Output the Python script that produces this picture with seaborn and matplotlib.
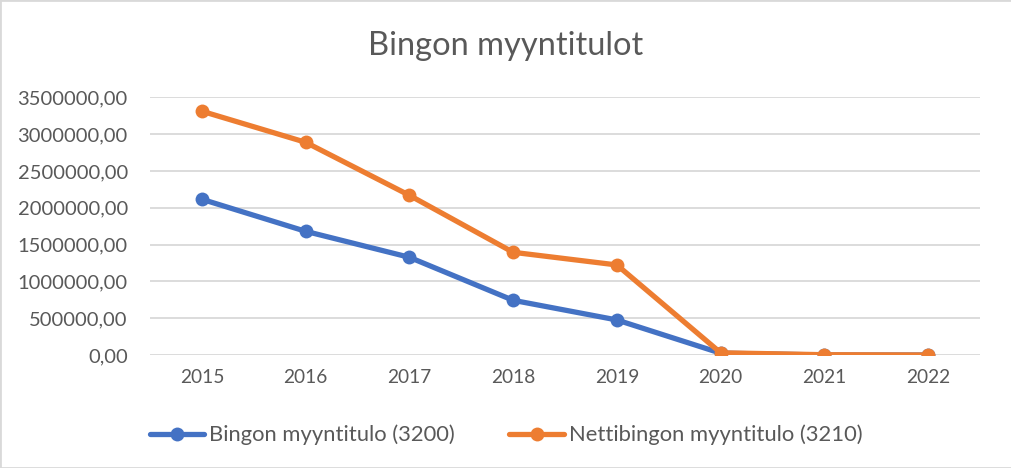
import matplotlib
matplotlib.use("Agg")
import matplotlib.pyplot as plt
import matplotlib.ticker as mticker
from matplotlib.lines import Line2D
import seaborn as sns
import pandas as pd

years = [2015, 2016, 2017, 2018, 2019, 2020, 2021, 2022]
bingo = [2115000, 1680000, 1327000, 743000, 476000, 25000, 0, 0]
nettibingo = [3311000, 2889000, 2169000, 1395000, 1223000, 30000, 4000, 0]
series_names = ["Bingon myyntitulo (3200)", "Nettibingon myyntitulo (3210)"]
title = "Bingon myyntitulot"
colors = ["#4472C4", "#ED7D31"]

df = pd.DataFrame({
    "Vuosi": years * 2,
    "Arvo": bingo + nettibingo,
    "Sarja": [series_names[0]] * len(years) + [series_names[1]] * len(years),
})

sns.set_theme(style="white")
plt.rcParams["font.family"] = ["Lato", "DejaVu Sans"]

fig = plt.figure(figsize=(10.12, 4.68), dpi=100)
ax = fig.add_axes([150 / 1012, 1 - 355 / 468, (980 - 150) / 1012, (355 - 97.3) / 468])

sns.lineplot(data=df, x="Vuosi", y="Arvo", hue="Sarja", palette=colors,
             marker="o", markersize=10, markeredgewidth=0, linewidth=3.8,
             legend=False, ax=ax, sort=False)

ax.set_xlim(2014.5, 2022.5)
ax.set_ylim(0, 3500000)
ax.set_xticks(years)
ax.set_xticklabels([str(y) for y in years])
ax.yaxis.set_major_locator(mticker.MultipleLocator(500000))
ax.yaxis.set_major_formatter(mticker.FuncFormatter(lambda v, p: f"{int(round(v))},00"))
ax.grid(axis="y", color="#D9D9D9", linewidth=1.3)
ax.set_axisbelow(True)
for s in ax.spines.values():
    s.set_visible(False)
ax.tick_params(axis="x", length=0, labelsize=13.8, colors="#595959", pad=10)
ax.tick_params(axis="y", length=0, labelsize=14.5, colors="#595959", pad=16)
ax.set_xlabel("")
ax.set_ylabel("")

fig.text(0.5, 1 - 46 / 468, title, ha="center", va="center", fontsize=23.5, color="#595959")

handles = [Line2D([], [], color=c, linewidth=3.8, marker="o", markersize=10, markeredgewidth=0)
           for c in colors]
fig.legend(handles, series_names, loc="center", bbox_to_anchor=(0.5, 1 - 435 / 468),
           ncol=2, frameon=False, fontsize=15.8, labelcolor="#595959",
           handlelength=2.5, handletextpad=0.2, columnspacing=2.5)

# outer chart border
fig.add_artist(plt.Rectangle((0, 0), 1, 1, transform=fig.transFigure, fill=False,
                             edgecolor="#D9D9D9", linewidth=2))

fig.savefig("out.png", dpi=100)
